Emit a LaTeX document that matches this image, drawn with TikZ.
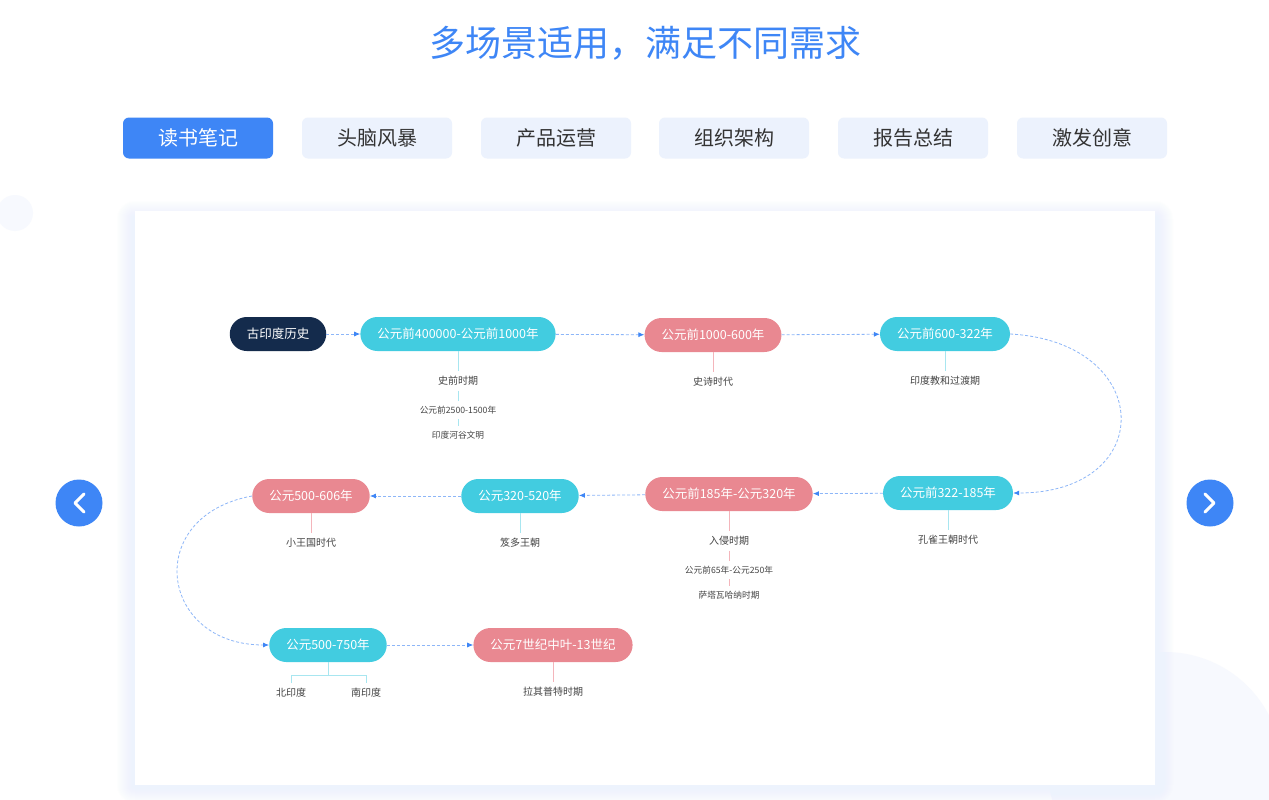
\documentclass[tikz,border=0pt]{standalone}
\usepackage{fontspec}
\setmainfont{Noto Sans CJK SC}
\usetikzlibrary{positioning,arrows.meta}
\definecolor{mainblue}{HTML}{3E86F6}
\definecolor{tabfill}{HTML}{ECF2FD}
\definecolor{navy}{HTML}{142B4C}
\definecolor{erac}{HTML}{42CCE0}
\definecolor{erap}{HTML}{E98891}
\definecolor{clinec}{HTML}{A8E6F0}
\definecolor{plinec}{HTML}{F4B5BB}
\definecolor{flowc}{HTML}{8DB6F8}
\definecolor{subtext}{HTML}{444444}
\definecolor{shadowc}{HTML}{EDF3FD}
\definecolor{paleblue}{HTML}{F7F9FE}

\begin{document}
\begin{tikzpicture}[x=1pt,y=-1pt,
  tab/.style={rounded corners=6pt,minimum width=150pt,minimum height=41pt,fill=tabfill,text=black!80,font=\fontsize{20}{24}\selectfont},
  era/.style={rounded corners=17pt,minimum height=34pt,inner xsep=17pt,text=white,font=\fontsize{12.5}{14}\selectfont},
  cera/.style={era,fill=erac}, pera/.style={era,fill=erap},
  sub/.style={inner sep=5pt,text=subtext,font=\fontsize{10}{12}\selectfont},
  subsm/.style={sub,font=\fontsize{8.7}{10}\selectfont},
  cline/.style={draw=clinec,line width=1pt}, pline/.style={draw=plinec,line width=1pt},
  flow/.style={-{Latex[length=6pt,width=5pt,color=mainblue]},draw=flowc,dash pattern=on 3pt off 2pt,line width=0.8pt}]
  \useasboundingbox (0,0) rectangle (1269,800);
  \fill[white] (0,0) rectangle (1269,800);
  % background decoration
  \fill[paleblue] (1165,769) circle (117); \fill[paleblue] (15,213) circle (18);
  \foreach \s in {1,...,18}
    \fill[shadowc,opacity=0.07,rounded corners=\s pt] ({135-\s},{219-\s}) rectangle ({1155+\s},{785+\s});
  \fill[white] (135,211) rectangle (1155,785);
  % title and tabs
  \node[text=mainblue,font=\fontsize{36}{40}\selectfont] (title) at (645,43) {多场景适用，满足不同需求};
  \node[tab,fill=mainblue,text=white] (t1) at (198,138) {读书笔记};
  \node[tab] (t2) at (377,138) {头脑风暴}; \node[tab] (t3) at (556,138) {产品运营};
  \node[tab] (t4) at (734,138) {组织架构}; \node[tab] (t5) at (913,138) {报告总结};
  \node[tab] (t6) at (1092,138) {激发创意};
  % arrow buttons
  \fill[mainblue] (79,503) circle (23.5); \fill[mainblue] (1210,503) circle (23.5);
  \draw[white,line width=3pt,line cap=round,line join=round] (84,494) -- (75,503) -- (84,512);
  \draw[white,line width=3pt,line cap=round,line join=round] (1205,494) -- (1214,503) -- (1205,512);
  % eras
  \node[era,fill=navy] (n0) at (278,334) {古印度历史};
  \node[cera] (n1) at (458,334) {公元前400000-公元前1000年};
  \node[pera] (n2) at (713,335) {公元前1000-600年};
  \node[cera] (n3) at (945,334) {公元前600-322年};
  \node[cera] (n4) at (948,493) {公元前322-185年};
  \node[pera] (n5) at (729,494) {公元前185年-公元320年};
  \node[cera] (n6) at (520,496) {公元320-520年};
  \node[pera] (n7) at (311,496) {公元500-606年};
  \node[cera] (n8) at (328,645) {公元500-750年};
  \node[pera] (n9) at (553,645) {公元7世纪中叶-13世纪};
  % flow
  \draw[flow] (n0) -- (n1); \draw[flow] (n1) -- (n2); \draw[flow] (n2) -- (n3);
  \draw[flow] (n3.east) .. controls +(145,8) and +(145,0) .. (n4.east);
  \draw[flow] (n4) -- (n5); \draw[flow] (n5) -- (n6); \draw[flow] (n6) -- (n7);
  \draw[flow] (n7.west) .. controls +(-110,20) and +(-110,0) .. (n8.west);
  \draw[flow] (n8) -- (n9);
  % sub topics
  \node[sub,below=20pt of n1] (s1) {史前时期};
  \node[subsm,below=10pt of s1] (s1a) {公元前2500-1500年};
  \node[subsm,below=7pt of s1a] (s1b) {印度河谷文明};
  \draw[cline] (n1) -- (s1); \draw[cline] (s1) -- (s1a); \draw[cline] (s1a) -- (s1b);
  \node[sub,below=20pt of n2] (s2) {史诗时代}; \draw[pline] (n2) -- (s2);
  \node[sub,below=20pt of n3] (s3) {印度教和过渡期}; \draw[cline] (n3) -- (s3);
  \node[sub,below=20pt of n4] (s4) {孔雀王朝时代}; \draw[cline] (n4) -- (s4);
  \node[sub,below=20pt of n5] (s5) {入侵时期};
  \node[subsm,below=10pt of s5] (s5a) {公元前65年-公元250年};
  \node[subsm,below=7pt of s5a] (s5b) {萨塔瓦哈纳时期};
  \draw[pline] (n5) -- (s5); \draw[pline] (s5) -- (s5a); \draw[pline] (s5a) -- (s5b);
  \node[sub,below=20pt of n6] (s6) {笈多王朝}; \draw[cline] (n6) -- (s6);
  \node[sub,below=20pt of n7] (s7) {小王国时代}; \draw[pline] (n7) -- (s7);
  \node[sub] (s8a) at (291,693) {北印度}; \node[sub] (s8b) at (366,693) {南印度};
  \draw[cline] (n8.south) -- ++(0,13) coordinate (fork);
  \draw[cline] (s8a.north) |- (fork) -| (s8b.north);
  \node[sub,below=20pt of n9] (s9) {拉其普特时期}; \draw[pline] (n9) -- (s9);
\end{tikzpicture}
\end{document}
